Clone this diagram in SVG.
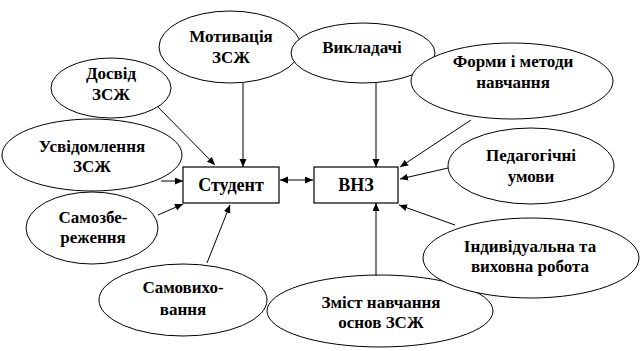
<svg xmlns="http://www.w3.org/2000/svg" width="642" height="351" viewBox="0 0 642 351">
<style>
.e{fill:#fff;stroke:#000;stroke-width:1}
.b{fill:#fff;stroke:#000;stroke-width:1.2}
text{font-family:'Liberation Serif','Times New Roman',serif;text-anchor:middle;fill:#000;font-weight:bold}
.t{font-size:17px}
.bt{font-size:18px}
.c{stroke:#000;stroke-width:1;fill:none;marker-end:url(#ah)}
</style>
<defs>
<marker id="ah" markerUnits="userSpaceOnUse" markerWidth="9" markerHeight="8" refX="8" refY="3.5" orient="auto-start-reverse">
<path d="M0,0 L8,3.5 L0,7 z" fill="#000"/>
</marker>
</defs>
<g id="n-motyvatsiia"><ellipse class="e" cx="230" cy="47" rx="71" ry="36"/><text class="t" x="231" y="42">Мотивація</text><text class="t" x="231" y="63">ЗСЖ</text></g>
<g id="n-vykladachi"><ellipse class="e" cx="363" cy="53" rx="72" ry="30"/><text class="t" x="362" y="53">Викладачі</text></g>
<g id="n-formy"><ellipse class="e" cx="512" cy="81" rx="101" ry="38"/><text class="t" x="513" y="67">Форми і методи</text><text class="t" x="513" y="88">навчання</text></g>
<g id="n-dosvid"><ellipse class="e" cx="111" cy="88" rx="60" ry="30"/><text class="t" x="111" y="79">Досвід</text><text class="t" x="111" y="100">ЗСЖ</text></g>
<g id="n-usvidomlennia"><ellipse class="e" cx="92" cy="155" rx="90" ry="36"/><text class="t" x="92" y="152">Усвідомлення</text><text class="t" x="92" y="172">ЗСЖ</text></g>
<g id="n-samozberezhennia"><ellipse class="e" cx="92" cy="228" rx="66" ry="36"/><text class="t" x="93" y="223">Самозбе-</text><text class="t" x="93" y="243">реження</text></g>
<g id="n-samovykhovannia"><ellipse class="e" cx="183" cy="300" rx="84" ry="36"/><text class="t" x="183" y="293">Самовихо-</text><text class="t" x="183" y="315">вання</text></g>
<g id="n-pedahohichni"><ellipse class="e" cx="531" cy="166" rx="83" ry="38"/><text class="t" x="531" y="161">Педагогічні</text><text class="t" x="531" y="182">умови</text></g>
<g id="n-zmist"><ellipse class="e" cx="380" cy="311" rx="113" ry="36"/><text class="t" x="381" y="308">Зміст навчання</text><text class="t" x="381" y="328">основ ЗСЖ</text></g>
<g id="n-indyvidualna"><ellipse class="e" cx="531" cy="258" rx="108" ry="40"/><text class="t" x="530" y="252">Індивідуальна та</text><text class="t" x="530" y="272">виховна робота</text></g>
<g id="n-student"><rect class="b" x="183" y="167" width="96" height="36"/><text class="bt" x="231" y="191">Студент</text></g>
<g id="n-vnz"><rect class="b" x="314" y="167" width="84" height="36"/><text class="bt" x="356" y="191">ВНЗ</text></g>
<g id="connectors">
<line class="c" x1="243" y1="83" x2="243" y2="167"/>
<line class="c" x1="158" y1="107" x2="215" y2="165"/>
<line class="c" x1="161" y1="181" x2="183" y2="181"/>
<line class="c" x1="158" y1="215" x2="183" y2="204"/>
<line class="c" x1="207" y1="263" x2="230" y2="205"/>
<line class="c" x1="280" y1="180" x2="313" y2="180" style="marker-start:url(#ah)"/>
<line class="c" x1="376" y1="83" x2="376" y2="167"/>
<line class="c" x1="471" y1="120" x2="400" y2="167"/>
<line class="c" x1="448" y1="168" x2="400" y2="179"/>
<line class="c" x1="455" y1="225" x2="399" y2="205"/>
<line class="c" x1="376" y1="276" x2="376" y2="203"/>
</g>
</svg>
